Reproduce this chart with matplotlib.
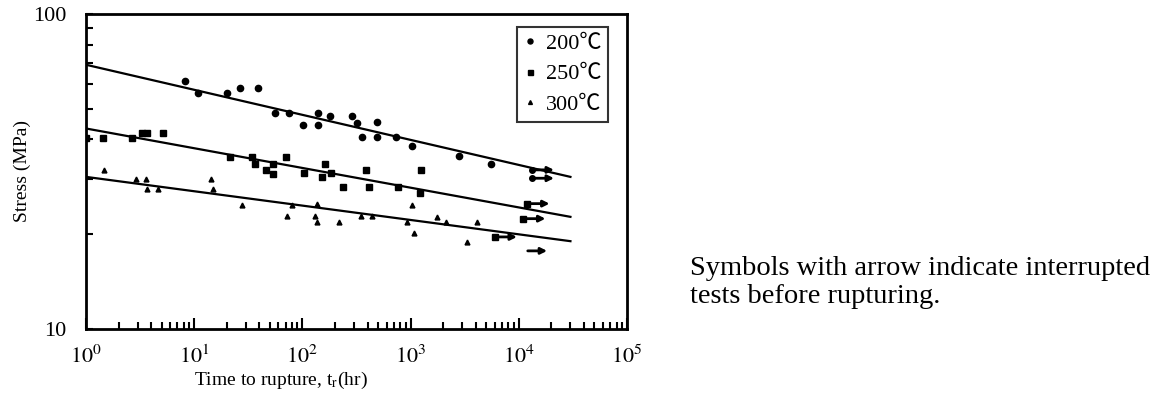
import matplotlib.pyplot as plt
import matplotlib as mpl

# ruptured tests: time to rupture (hr), stress (MPa)
t_200 = [8.2, 10.8, 20, 26.5, 39, 56, 75, 101, 140, 140, 180, 287, 318, 354, 490, 490, 733, 1030, 2800, 5540]
s_200 = [61.3, 56.1, 56.0, 58.2, 58.2, 48.5, 48.5, 44.4, 48.5, 44.4, 47.4, 47.4, 45.1, 40.7, 45.4, 40.7, 40.7, 38.1, 35.4, 33.4]

t_250 = [1.0, 1.44, 2.66, 3.29, 3.67, 5.1, 21.5, 34, 36.5, 46, 53.5, 53.5, 71, 103, 162, 151, 184, 237, 390, 412, 760, 1250, 1220]
s_250 = [40.5, 40.5, 40.5, 41.9, 41.9, 41.9, 35.1, 35.1, 33.4, 32.0, 33.4, 31.0, 35.1, 31.2, 33.4, 30.4, 31.2, 28.2, 32.0, 28.2, 28.2, 32.0, 27.0]

t_300 = [1.47, 2.9, 3.6, 3.7, 4.6, 14.3, 15, 27.7, 72, 80, 131, 135, 135, 218, 348, 436, 927, 1030, 1070, 1740, 2130, 4100, 3330]
s_300 = [32.0, 29.9, 29.9, 27.8, 27.8, 29.9, 27.8, 24.8, 22.9, 24.8, 22.9, 24.9, 21.9, 21.9, 22.9, 22.9, 21.9, 24.8, 20.2, 22.7, 21.9, 21.9, 18.9]

# interrupted tests (arrow symbols)
ti_200 = [13200, 13200]
si_200 = [32.0, 30.1]
ti_250 = [12000, 11000, 6000]
si_250 = [25.0, 22.4, 19.6]
ti_300 = [11400]
si_300 = [17.7]

# fitted lines
fit_t = [1, 30000]
fit_200 = [69.0, 30.4]
fit_250 = [43.3, 22.7]
fit_300 = [30.4, 19.0]

labels = ["200℃", "250℃", "300℃"]

mpl.rcParams['font.family'] = ['Liberation Serif', 'Noto Sans CJK JP']
mpl.rcParams['mathtext.fontset'] = 'stix'

fig = plt.figure(figsize=(11.56, 3.94), dpi=100)
ax = fig.add_axes([0.0744, 0.165, 0.468, 0.7995])

ax.plot(t_200, s_200, 'o', color='black', ms=4.5, label=labels[0])
ax.plot(t_250, s_250, 's', color='black', ms=4.5, label=labels[1])
ax.plot(t_300, s_300, '^', color='black', ms=3.5, label=labels[2])

for t, s in zip(ti_200, si_200):
    ax.plot(t, s, 'o', color='black', ms=4)
for t, s in zip(ti_250, si_250):
    ax.plot(t, s, 's', color='black', ms=4.5)
for ti, si in [(ti_200, si_200), (ti_250, si_250), (ti_300, si_300)]:
    for t, s in zip(ti, si):
        ax.annotate("", xy=(t * 1.7, s), xytext=(t, s),
                    arrowprops=dict(arrowstyle='-|>', lw=2, color='black', mutation_scale=9))

for fit in [fit_200, fit_250, fit_300]:
    ax.plot(fit_t, fit, color='black', lw=1.6)

ax.set_xscale('log')
ax.set_yscale('log')
ax.set_xlim(1, 1e5)
ax.set_ylim(10, 100)

for sp in ax.spines.values():
    sp.set_linewidth(2)

ax.set_yticks([10, 100])
ax.set_yticklabels(["10", "100"])
ax.set_xticks([1, 10, 100, 1e3, 1e4, 1e5])
ax.set_xticklabels([r"$10^{%d}$" % i for i in range(6)])
ax.tick_params(axis='both', which='both', direction='in', top=False, right=False, width=1.5)
ax.tick_params(axis='x', which='major', length=8, labelsize=16, pad=12)
ax.tick_params(axis='x', which='minor', length=5)
ax.tick_params(axis='y', which='major', length=5, labelsize=16, pad=14)
ax.tick_params(axis='y', which='minor', length=5, labelleft=False)

ax.set_ylabel("Stress (MPa)", fontsize=14)
ax.yaxis.set_label_coords(-0.102, 0.5)
ax.set_xlabel(r"Time to rupture, t$_{\mathrm{r}}$(hr)", fontsize=14)
ax.xaxis.set_label_coords(0.36, -0.13)

leg = ax.legend(loc='upper right', bbox_to_anchor=(0.965, 0.96), fontsize=16, frameon=True,
                fancybox=False, handlelength=0.6, handletextpad=0.4, labelspacing=0.45,
                borderpad=0.3, borderaxespad=0, markerscale=0.8)
leg.get_frame().set_edgecolor('black')
leg.get_frame().set_linewidth(1.5)

fig.text(0.597, 0.35, "Symbols with arrow indicate interrupted\ntests before rupturing.",
         fontsize=20.5, va='top', ha='left', linespacing=1.15)

plt.savefig("out.png", dpi=100)
plt.close()
